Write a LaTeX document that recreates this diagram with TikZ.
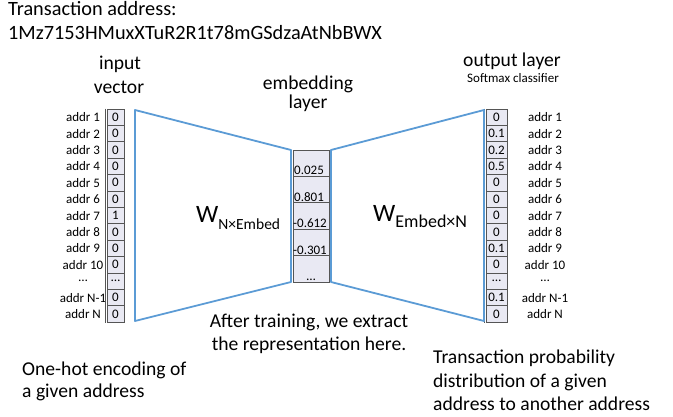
\documentclass[tikz,border=0pt]{standalone}
\usepackage{fontspec}
\setmainfont{Carlito}
\definecolor{lineblue}{RGB}{91,155,213}
\definecolor{cellfill}{RGB}{233,233,243}
\definecolor{celledge}{RGB}{85,85,85}
\begin{document}
\begin{tikzpicture}[x=1pt,y=-1pt,
  big/.style={font=\fontsize{19.6}{23}\selectfont, inner sep=0pt},
  title/.style={font=\fontsize{20.3}{24}\selectfont, inner sep=0pt},
  small/.style={font=\fontsize{13}{15}\selectfont, inner sep=0pt},
  cell/.style={draw=celledge, fill=cellfill, line width=0.8pt, minimum height=16.4pt, inner sep=0pt, font=\fontsize{13}{15}\selectfont},
  lcell/.style={cell, minimum width=17pt},
  rcell/.style={cell, minimum width=21pt},
  ecell/.style={draw=celledge, fill=cellfill, line width=0.8pt, minimum width=36pt, minimum height=26.4pt, inner sep=0pt},
  conn/.style={draw=lineblue, line width=1.8pt, line join=round},
  wlabel/.style={inner sep=0pt, anchor=base west}]
\useasboundingbox (0,0) rectangle (673,417);

% title
\node[title, anchor=base west] (t1) at (8,16) {Transaction address:};
\node[title, anchor=base west] (t2) at (8,40) {1Mz7153HMuxXTuR2R1t78mGSdzaAtNbBWX};

% headings
\node[big, anchor=base] (in1) at (120,70) {input};
\node[big, anchor=base] (in2) at (119,94) {vector};
\node[big, anchor=base] (em1) at (308,90) {embedding};
\node[big, anchor=base] (em2) at (308,109) {layer};
\node[big, anchor=base] (out) at (512,67) {output layer};
\node[small, anchor=base] (sm) at (513,83) {Softmax classifier};

% left column (one-hot)
\foreach \v [count=\i] in {0,0,0,0,0,0,1,0,0,0,…,0,0} {
  \node[lcell] (l\i) at (115.5,{117.2+(\i-1)*16.4}) {\v};
}
\foreach \t [count=\i] in {addr 1,addr 2,addr 3,addr 4,addr 5,addr 6,addr 7,addr 8,addr 9,addr 10,…,addr N-1,addr N} {
  \node[small] (la\i) at (83,{117.2+(\i-1)*16.4}) {\t};
}
\draw[celledge, line width=0.9pt] (l1.north west) ++(-1.5,0) coordinate (lx1) -- (l13.south west -| lx1);

% right column (softmax output)
\foreach \v [count=\i] in {0,0.1,0.2,0.5,0,0,0,0,0.1,0,…,0.1,0} {
  \node[rcell] (r\i) at (496.5,{117.2+(\i-1)*16.4}) {\v};
}
\foreach \t [count=\i] in {addr 1,addr 2,addr 3,addr 4,addr 5,addr 6,addr 7,addr 8,addr 9,addr 10,…,addr N-1,addr N} {
  \node[small] (ra\i) at (545,{117.2+(\i-1)*16.4}) {\t};
}
\draw[celledge, line width=0.9pt] (r1.north west) ++(-1.5,0) coordinate (rx1) -- (r13.south west -| rx1);

% embedding column
\foreach \i in {1,...,5} {
  \node[ecell] (e\i) at (311,{163.2+(\i-1)*26.4}) {};
}
\node[small, anchor=base west] (ev1) at (294,175) {0.025};
\node[small, anchor=base west] (ev2) at (294,201.4) {0.801};
\node[small, anchor=base west] (ev3) at (293,227.8) {-0.612};
\node[small, anchor=base west] (ev4) at (293,254.2) {-0.301};
\node[small, anchor=base] (ev5) at (311,280) {…};

% blue trapezoids
\coordinate (lt) at (135,110);
\coordinate (lb) at (135,321);
\coordinate (et) at (291,150);
\coordinate (eb) at (291,282);
\coordinate (ert) at (331,150);
\coordinate (erb) at (331,282);
\coordinate (rt) at (484,110);
\coordinate (rb) at (484,321);
\draw[conn] (et) -- (lt) -- (lb) -- (eb) -- cycle;
\draw[conn] (ert) -- (rt) -- (rb) -- (erb) -- cycle;

% weight labels
\node[wlabel] (wl) at (196,223) {\fontsize{25}{25}\selectfont W\fontsize{15.5}{15.5}\selectfont\raisebox{-6pt}{N×Embed}};
\node[wlabel] (wr) at (373,222) {\fontsize{25}{25}\selectfont W\fontsize{18}{18}\selectfont\raisebox{-6pt}{Embed×N}};

% bottom texts
\node[big, anchor=base] (a1) at (309,327) {After training, we extract};
\node[big, anchor=base] (a2) at (309,350) {the representation here.};
\node[big, anchor=base west] (o1) at (22,375) {One-hot encoding of};
\node[big, anchor=base west] (o2) at (22,397) {a given address};
\node[big, anchor=base west] (p1) at (433,363) {Transaction probability};
\node[big, anchor=base west] (p2) at (433,387) {distribution of a given};
\node[big, anchor=base west] (p3) at (433,410) {address to another address};
\end{tikzpicture}
\end{document}
